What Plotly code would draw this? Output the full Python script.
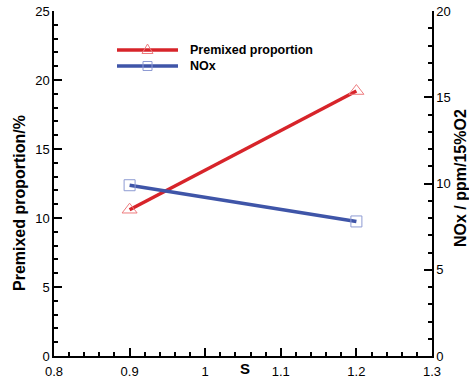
import plotly.graph_objects as go

s_values = [0.9, 1.2]
premixed = [10.6, 19.2]
nox = [9.9, 7.8]
legend_labels = ["Premixed proportion", "NOx"]

FONT = "Liberation Sans, Arial, sans-serif"
RED = "#D7242A"
BLUE = "#3F55A8"
RED_MK = "#EE7B7E"
BLUE_MK = "#8E9BD3"

# plot-area geometry (pixels)
W, H = 469, 378
L, R, T, B = 54, 37, 11, 22
PW, PH = W - L - R, H - T - B

def px(x):
    return (x - L) / PW

def py(y):
    return (H - B - y) / PH

fig = go.Figure()
fig.add_trace(go.Scatter(
    x=s_values, y=premixed, name=legend_labels[0],
    mode="lines+markers",
    line=dict(color=RED, width=3.5),
    marker=dict(symbol="triangle-up-open", size=13, color=RED_MK, line=dict(width=1)),
    yaxis="y", showlegend=False,
))
fig.add_trace(go.Scatter(
    x=s_values, y=nox, name=legend_labels[1],
    mode="lines+markers",
    line=dict(color=BLUE, width=3.5),
    marker=dict(symbol="square-open", size=11, color=BLUE_MK, line=dict(width=1)),
    yaxis="y2", showlegend=False,
))

axis_common = dict(
    showline=True, linecolor="black", linewidth=1.5,
    ticks="inside", ticklen=8, tickwidth=1.5, tickcolor="black",
    showgrid=False, zeroline=False, automargin=False,
    tickfont=dict(family=FONT, size=13, color="black"),
)

# hand-drawn legend (lines, symbols, labels) in paper coordinates
shapes = []
annotations = []
leg_rows = [(50, RED, RED_MK, "tri"), (66, BLUE, BLUE_MK, "sq")]
for (yy, lc, mc, kind), lab in zip(leg_rows, legend_labels):
    shapes.append(dict(type="line", xref="paper", yref="paper",
                       x0=px(117), x1=px(178), y0=py(yy), y1=py(yy),
                       line=dict(color=lc, width=3.5)))
    cx = 147.5
    if kind == "tri":
        path = "M {:.4f},{:.4f} L {:.4f},{:.4f} L {:.4f},{:.4f} Z".format(
            px(cx - 5.5), py(yy + 3.5), px(cx + 5.5), py(yy + 3.5), px(cx), py(yy - 6))
        shapes.append(dict(type="path", xref="paper", yref="paper", path=path,
                           line=dict(color=mc, width=1)))
    else:
        shapes.append(dict(type="rect", xref="paper", yref="paper",
                           x0=px(cx - 4.5), x1=px(cx + 4.5), y0=py(yy - 4.5), y1=py(yy + 4.5),
                           line=dict(color=mc, width=1)))
    annotations.append(dict(text="<b>%s</b>" % lab, xref="paper", yref="paper",
                            x=px(188), y=py(yy), showarrow=False,
                            xanchor="left", yanchor="middle",
                            font=dict(family=FONT, size=12.5, color="black")))

annotations += [
    dict(text="<b>Premixed proportion/%</b>", xref="paper", yref="paper",
         x=px(19), y=py(203), textangle=-90, showarrow=False,
         xanchor="center", yanchor="middle",
         font=dict(family=FONT, size=16, color="black")),
    dict(text="<b>NOx / ppm/15%O2</b>", xref="paper", yref="paper",
         x=px(460), y=py(178), textangle=-90, showarrow=False,
         xanchor="center", yanchor="middle",
         font=dict(family=FONT, size=16, color="black")),
    dict(text="<b>S</b>", xref="paper", yref="paper",
         x=px(245), y=py(358), showarrow=False,
         xanchor="center", yanchor="top",
         font=dict(family=FONT, size=15, color="black")),
]

fig.update_layout(
    width=W, height=H,
    margin=dict(l=L, r=R, t=T, b=B),
    paper_bgcolor="white", plot_bgcolor="white",
    font=dict(family=FONT, color="black"),
    showlegend=False,
    xaxis=dict(range=[0.8, 1.3], dtick=0.1, tick0=0.8, ticklabelstandoff=3,
               minor=dict(dtick=0.02, ticks="inside", ticklen=4, tickcolor="black"),
               **axis_common),
    yaxis=dict(range=[0, 25], dtick=5, tick0=0,
               minor=dict(dtick=1, ticks="inside", ticklen=4, tickcolor="black"),
               **axis_common),
    yaxis2=dict(range=[0, 20], dtick=5, tick0=0, overlaying="y", side="right",
                minor=dict(dtick=1, ticks="inside", ticklen=4, tickcolor="black"),
                **axis_common),
    shapes=shapes,
    annotations=annotations,
)

fig.write_html("out.html")
